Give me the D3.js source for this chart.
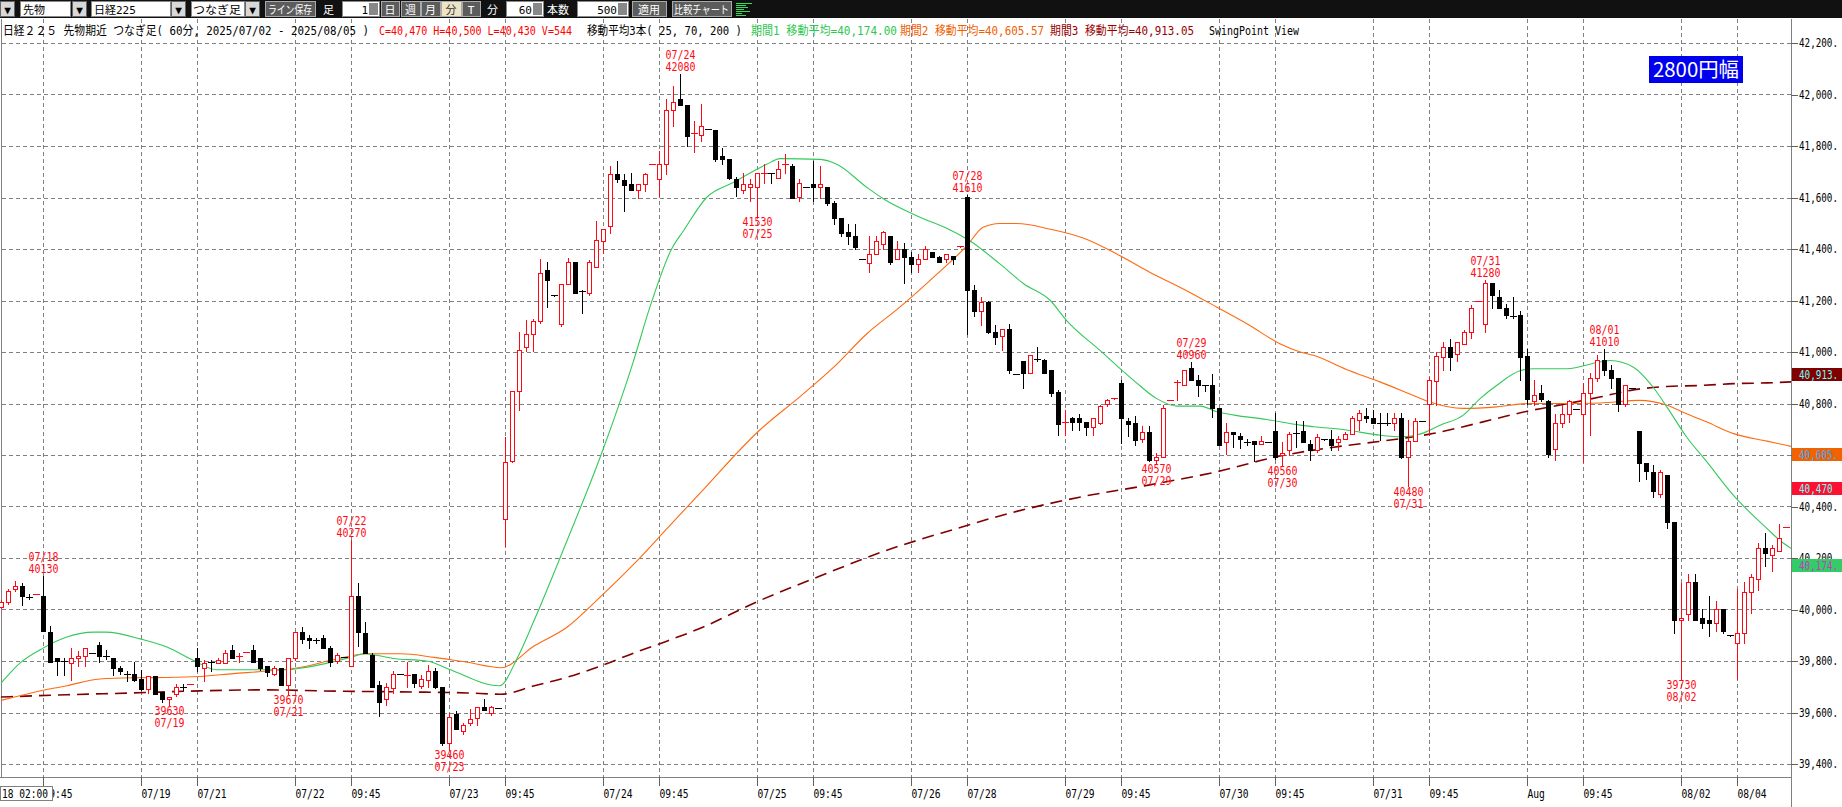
<!DOCTYPE html>
<html><head><meta charset="utf-8">
<script src="https://cdn.jsdelivr.net/npm/d3@7"></script>
<style>
html,body{margin:0;padding:0;background:#fff;overflow:hidden}
svg{display:block}
text{font-family:"DejaVu Sans Mono","Noto Sans CJK JP",monospace}
.jp{font-family:"Noto Sans CJK JP","DejaVu Sans",sans-serif}
</style></head><body>
<svg id="chart" width="1842" height="807"></svg>
<script>
// ---------------- DATA ----------------
const opens = [40010,40031,40079,40092,40050,40061,40053,39911,39811,39801,
39792,39811,39820,39831,39863,39820,39811,39773,39750,39750,
39730,39691,39743,39679,39652,39672,39699,39710,39811,39773,
39795,39792,39792,39844,39818,39835,39844,39811,39782,39751,
39773,39708,39811,39912,39889,39880,39890,39850,39799,39817,
39781,40051,39910,39823,39708,39653,39694,39750,39745,39750,
39704,39726,39763,39700,39481,39594,39530,39558,39580,39620,
39600,39618,40353,40577,40849,41019,41070,41120,41317,41220,
41107,41266,41348,41238,41229,41330,41430,41490,41690,41668,
41652,41628,41652,41729,41671,41729,41938,41981,41961,41848,
41843,41867,41861,41761,41748,41671,41628,41642,41642,41690,
41697,41677,41729,41723,41603,41641,41652,41642,41642,41577,
41520,41465,41452,41361,41345,41381,41419,41452,41361,41400,
41368,41342,41361,41390,41368,41361,41371,41409,41603,41241,
41159,41194,41077,41061,41090,40914,40964,40919,40972,40968,
40932,40843,40729,40742,40742,40729,40710,40725,40800,40819,
40881,40733,40723,40661,40690,40581,40591,40813,40884,40871,
40939,40890,40871,40871,40781,40652,40690,40674,40652,40654,
40642,40652,40693,40600,40619,40686,40693,40641,40619,40661,
40661,40652,40661,40681,40736,40751,40742,40725,40725,40723,
40742,40591,40655,40732,40800,40888,40981,41019,40991,41032,
41077,41197,41110,41268,41213,41172,41138,41142,40983,40810,
40841,40810,40622,40723,40761,40780,40760,40840,40900,40970,
40931,40900,40799,40861,40692,40570,40534,40450,40521,40340,
39961,39981,40107,39968,39961,39948,40000,39900,39868,39909,
40068,40120,40240,40210,40227,40320];
const highs = [40035,40079,40109,40102,40061,40061,40130,39934,39811,39811,
39850,39837,39850,39831,39872,39844,39811,39782,39760,39795,
39764,39743,39743,39679,39660,39710,39710,39710,39850,39802,
39802,39811,39844,39863,39831,39835,39863,39811,39782,39779,
39773,39811,39912,39932,39902,39890,39900,39859,39832,39817,
40270,40102,39951,39832,39722,39713,39763,39750,39795,39750,
39745,39786,39774,39700,39600,39604,39558,39613,39620,39653,
39627,39618,40668,40849,41078,41123,41129,41361,41348,41220,
41266,41366,41348,41240,41357,41507,41479,41723,41742,41690,
41697,41652,41697,41730,41781,41981,42032,42080,41961,41899,
41964,41867,41861,41791,41748,41680,41697,41671,41697,41729,
41697,41742,41768,41732,41671,41641,41742,41723,41642,41587,
41520,41497,41497,41361,41452,41452,41471,41452,41432,41422,
41387,41381,41413,41390,41374,41381,41374,41410,41610,41261,
41213,41197,41103,41090,41110,40914,40964,40990,41019,40972,
40932,40852,40774,40748,40761,40729,40742,40794,40819,40820,
40890,40742,40751,40712,40712,40609,40794,40814,40890,40932,
40960,40910,40871,40914,40781,40723,40690,40684,40661,40654,
40674,40652,40764,40652,40690,40732,40732,40658,40681,40661,
40699,40674,40690,40751,40774,40781,40774,40764,40764,40764,
40764,40735,40742,40732,40903,41000,41039,41052,41039,41086,
41181,41198,41280,41268,41241,41187,41213,41161,41013,40890,
40871,40813,40761,40794,40813,40780,40879,40918,40990,41010,
40948,40900,40870,40861,40692,40570,40560,40540,40521,40340,
40103,40139,40139,40000,40052,40034,40000,39900,40081,40107,
40139,40258,40297,40249,40331,40321];
const lows = [40005,40022,40070,40018,40040,40061,39915,39798,39747,39747,
39727,39779,39779,39830,39798,39807,39747,39751,39721,39721,
39689,39676,39672,39640,39630,39663,39686,39710,39760,39721,
39760,39792,39792,39811,39798,39835,39798,39766,39740,39747,
39708,39670,39805,39870,39850,39870,39850,39781,39792,39816,
39781,39859,39832,39700,39585,39631,39677,39749,39700,39700,
39695,39700,39695,39475,39460,39534,39517,39552,39552,39609,
39591,39617,40248,40572,40773,41005,41005,41111,41174,41219,
41101,41266,41229,41151,41220,41330,41384,41461,41660,41549,
41628,41600,41626,41729,41606,41690,41877,41961,41800,41778,
41819,41866,41742,41729,41671,41606,41619,41587,41530,41658,
41658,41677,41697,41600,41587,41640,41587,41600,41572,41499,
41452,41419,41400,41360,41310,41381,41400,41342,41361,41267,
41310,41310,41361,41368,41348,41348,41342,41409,41068,41139,
41103,41073,41032,41009,40919,40913,40862,40919,40964,40919,
40828,40677,40677,40697,40697,40677,40677,40720,40790,40819,
40648,40674,40639,40652,40575,40570,40591,40813,40815,40871,
40890,40828,40849,40748,40639,40604,40630,40626,40639,40578,
40642,40651,40583,40560,40600,40632,40652,40581,40613,40660,
40619,40619,40661,40681,40697,40729,40723,40658,40716,40697,
40587,40480,40655,40731,40677,40794,40932,40932,40965,41032,
41055,41197,41077,41172,41172,41133,41133,40890,40800,40794,
40810,40591,40581,40710,40729,40779,40573,40679,40887,40909,
40861,40770,40792,40860,40499,40505,40437,40437,40318,39909,
39730,39961,39961,39930,39896,39917,39909,39899,39732,39868,
39987,40074,40168,40150,40227,40320];
const closes = [40030,40070,40091,40051,40049,40062,39917,39798,39801,39800,
39811,39818,39850,39830,39818,39819,39773,39760,39749,39727,
39691,39740,39672,39652,39660,39699,39698,39711,39779,39792,
39794,39802,39831,39811,39819,39836,39798,39773,39756,39773,
39708,39811,39912,39886,39880,39879,39850,39795,39823,39816,
40051,39914,39832,39700,39640,39699,39750,39749,39746,39713,
39730,39763,39699,39481,39582,39534,39552,39573,39620,39609,
39620,39617,40572,40849,41006,41070,41120,41308,41279,41219,
41266,41348,41229,41237,41348,41436,41479,41690,41671,41649,
41628,41652,41690,41730,41729,41938,41970,41961,41839,41849,
41877,41866,41748,41748,41677,41639,41652,41652,41697,41697,
41690,41710,41730,41600,41658,41640,41642,41652,41577,41520,
41461,41452,41409,41360,41381,41432,41465,41348,41400,41368,
41342,41361,41400,41368,41348,41381,41361,41410,41241,41159,
41194,41077,41058,41090,40929,40913,40919,40990,40971,40919,
40841,40720,40730,40729,40729,40710,40742,40790,40813,40820,
40742,40720,40658,40690,40581,40591,40781,40814,40885,40932,
40890,40871,40870,40781,40639,40690,40681,40661,40651,40642,
40654,40651,40594,40609,40681,40685,40652,40619,40671,40660,
40639,40661,40681,40742,40764,40742,40723,40724,40724,40742,
40594,40655,40732,40731,40890,40983,41019,40981,41039,41077,
41172,41198,41268,41222,41172,41142,41137,40981,40819,40832,
40819,40604,40723,40761,40810,40779,40840,40900,40970,40931,
40900,40799,40870,40860,40570,40538,40460,40534,40340,39961,
39968,40107,39961,39948,39948,40000,39917,39899,39909,40068,
40126,40240,40219,40240,40279,40321];

// moving averages: [bar index, value]
const ma25 = [[0,39714],[2.7,39792],[6,39850],[9.4,39893],[13.2,39912],[15,39912],[20,39885],[23.7,39854],[27.5,39802],[30.8,39766],[36,39766],[40.8,39766],[42.7,39772],[45.6,39786],[49.9,39814],[52,39828],[56,39810],[61,39799],[64,39768],[71.2,39704],[73.8,39814],[76.2,39960],[80.9,40270],[85.7,40599],[90.3,40960],[92.7,41174],[95.8,41400],[97.5,41471],[100.8,41600],[104.6,41658],[109.4,41729],[111.3,41751],[117,41748],[119.4,41729],[123.7,41639],[126.1,41594],[130.8,41529],[135.6,41474],[138.4,41432],[142.7,41342],[146.1,41265],[149.9,41200],[152.2,41123],[157,41006],[161.8,40890],[165.1,40819],[168,40790],[171.3,40790],[173.7,40768],[176.1,40755],[180.8,40738],[185.6,40716],[187.5,40710],[192.2,40697],[197,40677],[200.3,40671],[202.7,40681],[205.6,40716],[208.9,40755],[211.3,40819],[213.7,40871],[217,40927],[219,40935],[223.7,40935],[228.4,40961],[229.9,40967],[233.2,40941],[236,40864],[238,40786],[240.8,40670],[243.7,40573],[247.5,40443],[252.3,40314],[254.1,40269],[255.8,40236]];
const ma70 = [[0,39647],[4.6,39678],[9.4,39704],[14.1,39730],[18.9,39735],[23.7,39736],[28.4,39740],[33.2,39751],[38,39761],[42.7,39775],[47.5,39805],[52.3,39828],[57.1,39828],[61.9,39814],[66.6,39795],[71.4,39774],[76.2,39859],[80.9,39932],[85.7,40051],[90.5,40179],[95.2,40316],[99.9,40453],[108.4,40697],[114.1,40826],[119,40942],[123.7,41071],[128.4,41174],[133.2,41290],[138,41413],[140.3,41484],[142.7,41499],[145.1,41499],[149.9,41477],[154.6,41443],[159.4,41381],[164.1,41310],[168.9,41245],[173.7,41174],[178.4,41103],[182.7,41032],[185.6,41000],[187.5,40987],[192.2,40932],[197,40884],[201.7,40832],[204.1,40806],[208.9,40781],[213.7,40787],[218.4,40800],[223.2,40800],[228.4,40802],[234.1,40812],[238,40793],[240.8,40760],[243.7,40728],[247.5,40683],[252.3,40654],[255.8,40633]];
const ma200 = [[0,39660],[9.4,39669],[18.9,39676],[28.4,39684],[38,39688],[45.6,39684],[57.1,39680],[66.6,39676],[71.4,39671],[76.2,39704],[80.9,39737],[85.7,39781],[90.5,39832],[95.2,39878],[99.9,39927],[108,40030],[117,40130],[126,40225],[135.6,40307],[145.1,40381],[154.6,40439],[164.1,40484],[173.7,40535],[182.7,40596],[187.5,40619],[194.6,40645],[200.3,40665],[204.1,40681],[208.9,40710],[213.7,40742],[218.4,40772],[223.5,40798],[228.4,40825],[233.2,40853],[238,40866],[242.8,40870],[247.5,40877],[252.3,40880],[255.8,40884]];

// swing point labels
const swingIdx   = [6,24,41,50,64,97,108,138,165,170,183,201,212,229,240];
const swingKind  = ["H","L","L","H","L","H","L","H","L","H","L","L","H","H","L"];
const swingDate  = ["07/18","07/19","07/21","07/22","07/23","07/24","07/25","07/28","07/29","07/29","07/30","07/31","07/31","08/01","08/02"];
const swingPrice = [40130,39630,39670,40270,39460,42080,41530,41610,40570,40960,40560,40480,41280,41010,39730];

// axes
const yTicks = [39400,39600,39800,40000,40200,40400,40600,40800,41000,41200,41400,41600,41800,42000,42200];
const xTickIdx = [6,20,28,42,50,64,72,86,94,108,116,130,138,152,160,174,182,196,204,218,226,240,248];
const xTickLabels = ["09:45","07/19","07/21","07/22","09:45","07/23","09:45","07/24","09:45","07/25","09:45","07/26","07/28","07/29","09:45","07/30","09:45","07/31","09:45","Aug","09:45","08/02","08/04"];

// right-side value markers
const markerVals = [40913,40605,40470,40174];
const markerText = ["40,913.","40,605.","40,470","40,174."];

// ---------------- DRAW ----------------
const W=1842,H=807, plotR=1791, plotT=19, plotB=777;
const RED="#ff0a14", GREEN="#33c95a", ORANGE="#ff6a10", DRED="#800000";
const svg=d3.select("#chart");
svg.append("rect").attr("width",W).attr("height",H).attr("fill","#fff");

const x=d3.scaleLinear().domain([0,255]).range([1,1786]);
const y=d3.scaleLinear().domain([39400,42200]).range([764,43]);

svg.append("defs").append("clipPath").attr("id","clip")
  .append("rect").attr("x",0).attr("y",plotT).attr("width",plotR).attr("height",plotB-plotT);

// grid
const grid=svg.append("g").attr("shape-rendering","crispEdges").attr("stroke","#808080").attr("stroke-dasharray","4,3");
yTicks.forEach(p=>{const yy=Math.round(y(p))+0.5;
  grid.append("line").attr("x1",2).attr("x2",plotR).attr("y1",yy).attr("y2",yy);});
xTickIdx.forEach(k=>{const xx=Math.round(x(k))+0.5;
  grid.append("line").attr("x1",xx).attr("x2",xx).attr("y1",plotT).attr("y2",plotB);});

// left border
svg.append("line").attr("x1",1.5).attr("x2",1.5).attr("y1",plotT).attr("y2",plotB)
  .attr("stroke","#808080").attr("shape-rendering","crispEdges");

const plot=svg.append("g").attr("clip-path","url(#clip)");

// moving averages
const line=d3.line().x(d=>x(d[0])).y(d=>y(d[1])).curve(d3.curveMonotoneX);
plot.append("path").attr("d",line(ma200)).attr("fill","none").attr("stroke",DRED).attr("stroke-width",1.6).attr("stroke-dasharray","12,7");
plot.append("path").attr("d",line(ma70)).attr("fill","none").attr("stroke",ORANGE).attr("stroke-width",1.1);
plot.append("path").attr("d",line(ma25)).attr("fill","none").attr("stroke",GREEN).attr("stroke-width",1.1);

// candles
const cg=plot.append("g").attr("shape-rendering","crispEdges");
opens.forEach((o,i)=>{
  const c=closes[i], h=Math.max(highs[i],o,c), l=Math.min(lows[i],o,c);
  const cx=Math.round(x(i));
  const up=c>=o, col=up?RED:"#000";
  const top=Math.round(y(Math.max(o,c))), bot=Math.round(y(Math.min(o,c)));
  const yh=Math.round(y(h)), yl=Math.round(y(l));
  if(yl-yh>=1) cg.append("line").attr("x1",cx+0.5).attr("x2",cx+0.5).attr("y1",yh).attr("y2",yl+1).attr("stroke",col);
  if(bot-top<2){
    cg.append("line").attr("x1",cx-3).attr("x2",cx+4).attr("y1",top+0.5).attr("y2",top+0.5).attr("stroke",col);
  } else if(up){
    cg.append("rect").attr("x",cx-1.5).attr("y",top+0.5).attr("width",4).attr("height",bot-top).attr("fill","#fff").attr("stroke",RED);
  } else {
    cg.append("rect").attr("x",cx-2).attr("y",top).attr("width",5).attr("height",bot-top+1).attr("fill","#000");
  }
});

// swing labels
const sg=svg.append("g").attr("fill",RED).attr("font-size",12);
swingIdx.forEach((k,i)=>{
  const cx=x(k)+0.5, yy=y(swingPrice[i]);
  const lines = swingKind[i]==="H" ? [[swingDate[i],yy-15],[String(swingPrice[i]),yy-3]]
                                   : [[String(swingPrice[i]),yy+10],[swingDate[i],yy+22]];
  lines.forEach(([t,by])=>sg.append("text").attr("x",cx).attr("y",by).attr("text-anchor","middle")
     .attr("textLength",t.length*6).attr("lengthAdjust","spacingAndGlyphs").text(t));
});

// x axis
svg.append("line").attr("x1",0).attr("x2",plotR).attr("y1",plotB+0.5).attr("y2",plotB+0.5).attr("stroke","#808080").attr("shape-rendering","crispEdges");
const xa=svg.append("g").attr("transform",`translate(0,${plotB})`)
  .call(d3.axisBottom(x).tickValues(xTickIdx).tickSize(9).tickPadding(3).tickFormat((d,i)=>xTickLabels[i]));
xa.select(".domain").remove();
xa.selectAll("line").attr("stroke","#606060").attr("shape-rendering","crispEdges");
xa.selectAll("text").attr("text-anchor","start").attr("x",0).attr("y",21).attr("dy",null)
  .attr("font-size",12).attr("font-family","DejaVu Sans Mono").attr("fill","#000")
  .each(function(d,i){const t=xTickLabels[i]; d3.select(this).attr("textLength",t.length*5.8).attr("lengthAdjust","spacingAndGlyphs");});

// time box bottom-left
svg.append("rect").attr("x",0.5).attr("y",786.5).attr("width",52).attr("height",14).attr("fill","#fff").attr("stroke","#808080");
svg.append("text").attr("x",2).attr("y",798).attr("font-size",12).attr("textLength",46).attr("lengthAdjust","spacingAndGlyphs").text("18 02:00");

// right axis
svg.append("rect").attr("x",plotR+1).attr("y",plotT).attr("width",W-plotR).attr("height",H-plotT).attr("fill","#fff");
svg.append("line").attr("x1",plotR+0.5).attr("x2",plotR+0.5).attr("y1",plotT).attr("y2",H).attr("stroke","#808080").attr("shape-rendering","crispEdges");
const ya=svg.append("g").attr("transform",`translate(${plotR},0)`)
  .call(d3.axisRight(y).tickValues(yTicks).tickSize(7).tickPadding(1).tickFormat(d=>d3.format(",")(d)+"."));
ya.select(".domain").remove();
ya.selectAll("line").attr("stroke","#606060").attr("shape-rendering","crispEdges");
ya.selectAll("text").attr("font-size",12).attr("font-family","DejaVu Sans Mono").attr("fill","#000")
  .attr("textLength",39).attr("lengthAdjust","spacingAndGlyphs");

// value markers
const mBg=[DRED,"#f26300","#ff1030","#33cc66"], mFg=["#66ffff","#3aa8ff","#66ffff","#c040c0"];
markerVals.forEach((v,i)=>{
  const yy=Math.round(y(v));
  svg.append("rect").attr("x",plotR+1).attr("y",yy-6).attr("width",W-plotR-1).attr("height",13).attr("fill",mBg[i]);
  svg.append("text").attr("x",plotR+8).attr("y",yy+4.5).attr("font-size",12).attr("fill",mFg[i])
    .attr("textLength",markerText[i].length*5.6).attr("lengthAdjust","spacingAndGlyphs").text(markerText[i]);
});

// 2800円幅 box
svg.append("rect").attr("x",1649).attr("y",56).attr("width",94).attr("height",27).attr("fill","#0000ee");
svg.append("text").attr("class","jp").attr("x",1696).attr("y",77).attr("text-anchor","middle").attr("font-size",20)
  .attr("fill","#fff").attr("textLength",86).attr("lengthAdjust","spacingAndGlyphs").text("2800円幅");

// header line
const hdr=[
  ["日経２２５ 先物期近 つなぎ足( 60分, 2025/07/02 - 2025/08/05 )",3,366,"#000"],
  ["C=40,470 H=40,500 L=40,430 V=544",379,193,"#ff0000"],
  ["移動平均3本( 25, 70, 200 )",587,155,"#000"],
  ["期間1 移動平均=40,174.00",751,146,"#2ec850"],
  ["期間2 移動平均=40,605.57",900,144,"#f06000"],
  ["期間3 移動平均=40,913.05",1050,144,"#990000"],
  ["SwingPoint View",1209,90,"#000"]];
hdr.forEach(([t,xx,len,col])=>svg.append("text").attr("x",xx).attr("y",35).attr("font-size",12)
  .attr("fill",col).attr("textLength",len).attr("lengthAdjust","spacingAndGlyphs").text(t));

// toolbar
svg.append("rect").attr("x",0).attr("y",0).attr("width",W).attr("height",18).attr("fill","#111");
const tb=svg.append("g").attr("class","jp").attr("font-size",11);
function box(x0,w,fill,stroke){tb.append("rect").attr("x",x0+0.5).attr("y",1.5).attr("width",w).attr("height",15).attr("fill",fill).attr("stroke",stroke||"#888");}
function txt(t,x0,col,anchor,len){const e=tb.append("text").attr("x",x0).attr("y",13.5).attr("fill",col).attr("text-anchor",anchor||"start").text(t); if(len) e.attr("textLength",len).attr("lengthAdjust","spacingAndGlyphs");}
function drop(x0){box(x0,14,"#d8d8d8","#666");txt("▼",x0+7.5,"#000","middle");}
drop(0);
box(20,50,"#fff");txt("先物",23,"#000");drop(72);
box(91,79,"#fff");txt("日経225",94,"#000");drop(171);
box(191,53,"#fff");txt("つなぎ足",193,"#000","start",48);drop(245);
box(265,50,"#5c5c5c","#aaa");txt("ライン保存",290,"#fff","middle",44);
txt("足",323,"#fff");
box(342,37,"#fff");txt("1",368,"#000","end");tb.append("rect").attr("x",369).attr("y",3).attr("width",9).attr("height",12).attr("fill","#888");
[["日",381,18],["週",401,19],["月",421,19]].forEach(([t,x0,w])=>{box(x0,w,"#5c5c5c","#aaa");txt(t,x0+w/2,"#fff","middle");});
box(441,20,"#ece4c4","#aaa");txt("分",451,"#333","middle");
box(462,18,"#5c5c5c","#aaa");txt("T",471,"#fff","middle");
txt("分",487,"#fff");
box(506,37,"#fff");txt("60",532,"#000","end");tb.append("rect").attr("x",533).attr("y",3).attr("width",9).attr("height",12).attr("fill","#888");
txt("本数",547,"#fff");
box(577,51,"#fff");txt("500",617,"#000","end");tb.append("rect").attr("x",618).attr("y",3).attr("width",9).attr("height",12).attr("fill","#888");
box(632,34,"#5c5c5c","#aaa");txt("適用",649,"#fff","middle");
box(672,59,"#5c5c5c","#aaa");txt("比較チャート",701.5,"#fff","middle",55);
[[3,16],[5,10],[7,12],[9,8],[11,14],[13,6],[15,10]].forEach(([yy,w])=>tb.append("rect").attr("x",736).attr("y",yy).attr("width",w).attr("height",1).attr("fill","#33dd55"));
</script>
</body></html>
